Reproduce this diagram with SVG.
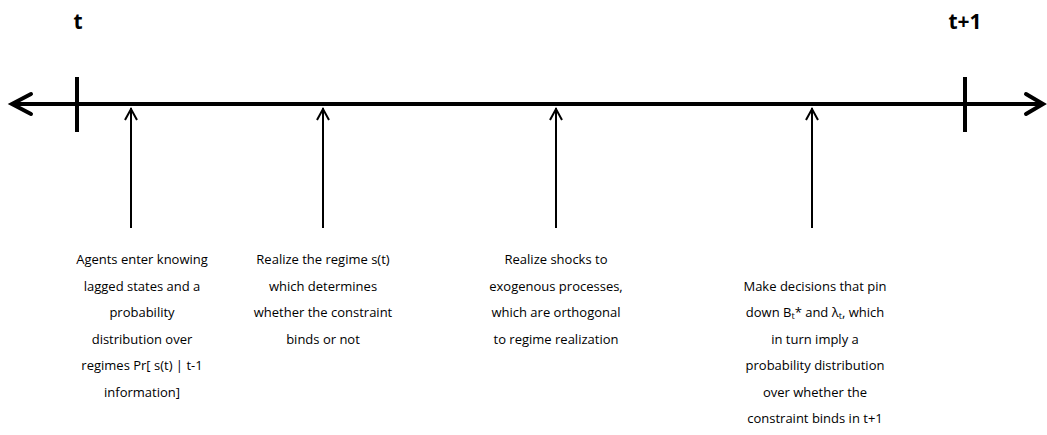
<svg xmlns="http://www.w3.org/2000/svg" width="1047" height="435" viewBox="0 0 1047 435">
<style>
.lbl{font-family:"Open Sans","Liberation Sans",sans-serif;font-size:13px;fill:#000;text-anchor:middle}
.time{font-family:"Open Sans","Liberation Sans",sans-serif;font-size:21px;font-weight:bold;fill:#000;text-anchor:middle}
.main{stroke:#000;stroke-width:4;fill:none}
.tick{stroke:#000;stroke-width:4;fill:none}
.arr{stroke:#000;stroke-width:2;fill:none}
.head{stroke:#000;stroke-width:2;fill:none;stroke-linecap:butt}
</style>
<rect width="1047" height="435" fill="#fff"/>
<g id="connectors">
  <line class="main" x1="12" y1="104" x2="1043" y2="104"/>
  <polyline class="main" points="31,94 12,104 31,114" stroke-linecap="round" stroke-width="4.5"/>
  <polyline class="main" points="1026,94 1043,104 1026,114" stroke-linecap="round" stroke-width="4.5"/>
  <line class="tick" x1="77" y1="77" x2="77" y2="132"/>
  <line class="tick" x1="965" y1="77" x2="965" y2="132"/>
  <line class="arr" x1="131" y1="108" x2="131" y2="228"/>
  <polyline class="head" points="125,120 131,109 137,120"/>
  <line class="arr" x1="323" y1="108" x2="323" y2="228"/>
  <polyline class="head" points="317,120 323,109 329,120"/>
  <line class="arr" x1="556" y1="108" x2="556" y2="228"/>
  <polyline class="head" points="550,120 556,109 562,120"/>
  <line class="arr" x1="812" y1="108" x2="812" y2="228"/>
  <polyline class="head" points="806,120 812,109 818,120"/>
</g>
<g id="t"><text class="time" x="78" y="29">t</text></g>
<g id="t1"><text class="time" x="965" y="29">t+1</text></g>
<g id="node1">
  <text class="lbl" x="142" y="264">Agents enter knowing</text>
  <text class="lbl" x="142" y="291">lagged states and a</text>
  <text class="lbl" x="142" y="317">probability</text>
  <text class="lbl" x="142" y="344">distribution over</text>
  <text class="lbl" x="142" y="370">regimes Pr[ s(t) | t-1</text>
  <text class="lbl" x="142" y="397">information]</text>
</g>
<g id="node2">
  <text class="lbl" x="323" y="264">Realize the regime s(t)</text>
  <text class="lbl" x="323" y="291">which determines</text>
  <text class="lbl" x="323" y="317">whether the constraint</text>
  <text class="lbl" x="323" y="344">binds or not</text>
</g>
<g id="node3">
  <text class="lbl" x="556" y="264">Realize shocks to</text>
  <text class="lbl" x="556" y="291">exogenous processes,</text>
  <text class="lbl" x="556" y="317">which are orthogonal</text>
  <text class="lbl" x="556" y="344">to regime realization</text>
</g>
<g id="node4">
  <text class="lbl" x="815" y="291">Make decisions that pin</text>
  <text class="lbl" x="815" y="317">down B<tspan font-size="9" dy="2">t</tspan><tspan dy="-2">* and λ</tspan><tspan font-size="9" dy="2">t</tspan><tspan dy="-2">, which</tspan></text>
  <text class="lbl" x="815" y="344">in turn imply a</text>
  <text class="lbl" x="815" y="370">probability distribution</text>
  <text class="lbl" x="815" y="397">over whether the</text>
  <text class="lbl" x="815" y="423">constraint binds in t+1</text>
</g>
</svg>
